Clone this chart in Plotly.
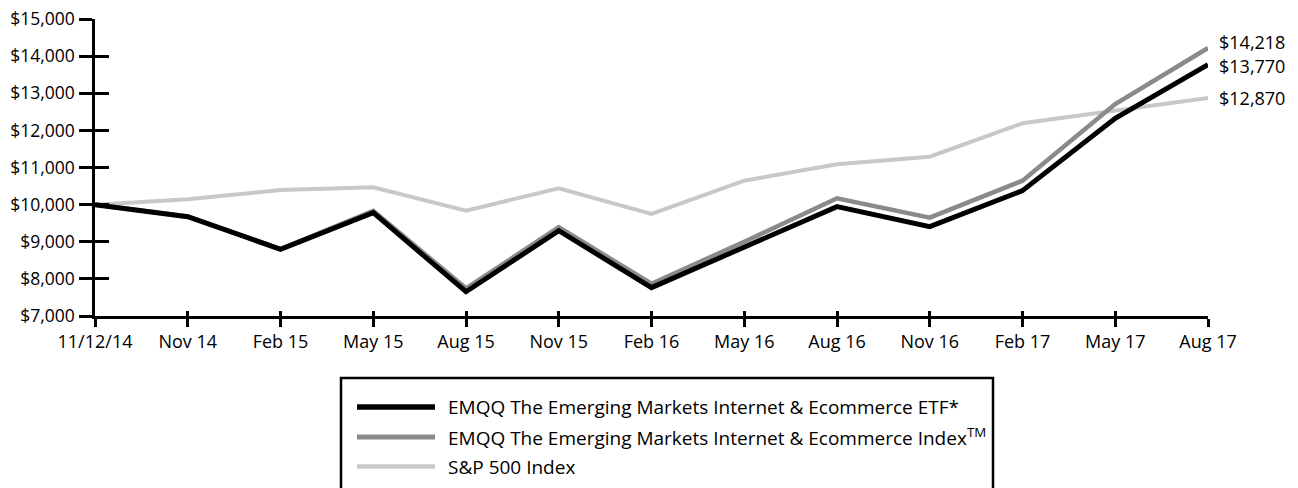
import plotly.graph_objects as go

# ---- data ----
dates = ["11/12/14", "Nov 14", "Feb 15", "May 15", "Aug 15", "Nov 15", "Feb 16",
         "May 16", "Aug 16", "Nov 16", "Feb 17", "May 17", "Aug 17"]
etf = [10000, 9675, 8797, 9783, 7654, 9298, 7765, 8867, 9945, 9406, 10376, 12324, 13770]
index = [10000, 9680, 8805, 9830, 7746, 9390, 7870, 9000, 10170, 9649, 10645, 12710, 14218]
sp500 = [10000, 10143, 10394, 10466, 9837, 10439, 9750, 10645, 11085, 11292, 12190, 12522, 12870]
names = ["EMQQ The Emerging Markets Internet & Ecommerce ETF*",
         "EMQQ The Emerging Markets Internet & Ecommerce Index<sup>TM</sup>",
         "S&P 500 Index"]
y_ticks = [7000, 8000, 9000, 10000, 11000, 12000, 13000, 14000, 15000]

colors = ["#000000", "#8a8a8a", "#c8c8c8"]
widths = [5, 4.5, 4]
FONT = "'Open Sans', sans-serif"

W, H = 1298, 488
L, R, T, B = 95, 90, 19, 172
pw, ph = W - L - R, H - T - B

x = list(range(len(dates)))
fig = go.Figure()
# draw order: S&P (bottom), Index, ETF (top, on overlay axes)
fig.add_trace(go.Scatter(x=x, y=sp500, mode="lines", line=dict(color=colors[2], width=widths[2]),
                         cliponaxis=False, showlegend=False, hoverinfo="skip"))
fig.add_trace(go.Scatter(x=x, y=index, mode="lines", line=dict(color=colors[1], width=widths[1]),
                         cliponaxis=False, showlegend=False, hoverinfo="skip"))
fig.add_trace(go.Scatter(x=x, y=etf, mode="lines", line=dict(color=colors[0], width=widths[0]),
                         cliponaxis=False, showlegend=False, hoverinfo="skip",
                         xaxis="x2", yaxis="y2"))

xr = [0, len(dates) - 1]
yr = [y_ticks[0], y_ticks[-1]]
xfont = dict(family=FONT, size=18, color="#000")
yfont = dict(family=FONT, size=17.5, color="#000")
fig.update_layout(
    width=W, height=H, autosize=False,
    margin=dict(l=L, r=R, t=T, b=B, pad=0),
    paper_bgcolor="white", plot_bgcolor="white",
    font=xfont,
    xaxis=dict(range=xr, tickmode="array", tickvals=x, ticktext=dates,
               ticks="outside", ticklen=8, tickwidth=2.5, tickcolor="#000",
               showline=True, linewidth=2.5, linecolor="#000", automargin=False,
               showgrid=False, zeroline=False, tickfont=xfont, fixedrange=True),
    yaxis=dict(range=yr, tickmode="array", tickvals=y_ticks,
               ticktext=[f"${v:,.0f}" for v in y_ticks],
               ticks="outside", ticklen=13, tickwidth=2.5, tickcolor="#000",
               ticklabelstandoff=1, automargin=False,
               showline=True, linewidth=2.5, linecolor="#000",
               showgrid=False, zeroline=False, tickfont=yfont, fixedrange=True),
    xaxis2=dict(range=xr, overlaying="x", anchor="y2", tickmode="array", tickvals=x,
                ticks="inside", ticklen=5, tickwidth=2.5, tickcolor="#000", automargin=False,
                showticklabels=False, showline=False, showgrid=False, zeroline=False),
    yaxis2=dict(range=yr, overlaying="y", anchor="x2", side="left", tickmode="array",
                tickvals=y_ticks, ticks="inside", ticklen=14, tickwidth=2.5, tickcolor="#000",
                automargin=False,
                showticklabels=False, showline=False, showgrid=False, zeroline=False),
    showlegend=False,
)

# end-value labels
ends = [(etf[-1], -1), (index[-1], 6), (sp500[-1], 0)]
for v, ys in ends:
    fig.add_annotation(x=xr[1], y=v, xref="x", yref="y", text=f"${v:,.0f}",
                       showarrow=False, xanchor="left", yanchor="middle",
                       xshift=9, yshift=ys, font=dict(family=FONT, size=18, color="#000"))

# manual legend (box, line samples, labels)
def px_x(p):
    return (p - L) / pw

def px_y(p):
    return (T + ph - p) / ph

fig.add_shape(type="rect", xref="paper", yref="paper",
              x0=px_x(341), x1=px_x(993), y0=px_y(520), y1=px_y(378),
              line=dict(color="#000", width=2.5), fillcolor="rgba(0,0,0,0)", layer="above")
rows = [407, 437, 466.5]
for i, (nm, c, w) in enumerate(zip(names, colors, widths)):
    fig.add_shape(type="line", xref="paper", yref="paper",
                  x0=px_x(357), x1=px_x(435), y0=px_y(rows[i]), y1=px_y(rows[i]),
                  line=dict(color=c, width=w + 0.5))
    fig.add_annotation(xref="paper", yref="paper", x=px_x(446), y=px_y(rows[i]),
                       text=nm, showarrow=False, xanchor="left", yanchor="middle",
                       font=dict(family=FONT, size=19, color="#000"))

fig.write_html("out.html")
